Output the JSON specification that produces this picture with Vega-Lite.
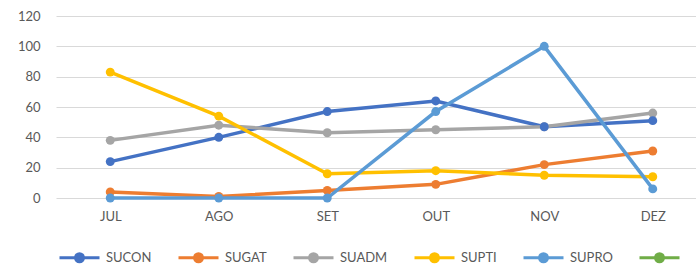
{
  "$schema": "https://vega.github.io/schema/vega-lite/v6.json",
  "width": 651,
  "height": 182,
  "autosize": {"type": "none"},
  "padding": {"left": 56, "top": 16, "right": 0, "bottom": 67},
  "background": "white",
  "config": {
    "view": {"stroke": null},
    "font": "Lato",
    "axis": {"labelFont": "Lato", "labelFontSize": 13, "labelColor": "#595959"},
    "legend": {"labelFont": "Lato", "labelFontSize": 13, "labelColor": "#595959"}
  },
  "data": {
    "values": [
      {"mes": "JUL", "serie": "SUCON", "valor": 24},
      {"mes": "AGO", "serie": "SUCON", "valor": 40},
      {"mes": "SET", "serie": "SUCON", "valor": 57},
      {"mes": "OUT", "serie": "SUCON", "valor": 64},
      {"mes": "NOV", "serie": "SUCON", "valor": 47},
      {"mes": "DEZ", "serie": "SUCON", "valor": 51},
      {"mes": "JUL", "serie": "SUGAT", "valor": 4},
      {"mes": "AGO", "serie": "SUGAT", "valor": 1},
      {"mes": "SET", "serie": "SUGAT", "valor": 5},
      {"mes": "OUT", "serie": "SUGAT", "valor": 9},
      {"mes": "NOV", "serie": "SUGAT", "valor": 22},
      {"mes": "DEZ", "serie": "SUGAT", "valor": 31},
      {"mes": "JUL", "serie": "SUADM", "valor": 38},
      {"mes": "AGO", "serie": "SUADM", "valor": 48},
      {"mes": "SET", "serie": "SUADM", "valor": 43},
      {"mes": "OUT", "serie": "SUADM", "valor": 45},
      {"mes": "NOV", "serie": "SUADM", "valor": 47},
      {"mes": "DEZ", "serie": "SUADM", "valor": 56},
      {"mes": "JUL", "serie": "SUPTI", "valor": 83},
      {"mes": "AGO", "serie": "SUPTI", "valor": 54},
      {"mes": "SET", "serie": "SUPTI", "valor": 16},
      {"mes": "OUT", "serie": "SUPTI", "valor": 18},
      {"mes": "NOV", "serie": "SUPTI", "valor": 15},
      {"mes": "DEZ", "serie": "SUPTI", "valor": 14},
      {"mes": "JUL", "serie": "SUPRO", "valor": 0},
      {"mes": "AGO", "serie": "SUPRO", "valor": 0},
      {"mes": "SET", "serie": "SUPRO", "valor": 0},
      {"mes": "OUT", "serie": "SUPRO", "valor": 57},
      {"mes": "NOV", "serie": "SUPRO", "valor": 100},
      {"mes": "DEZ", "serie": "SUPRO", "valor": 6}
    ]
  },
  "mark": {"type": "line", "strokeWidth": 3.5, "point": {"filled": true, "size": 80}},
  "encoding": {
    "x": {
      "field": "mes", "type": "nominal",
      "sort": ["JUL", "AGO", "SET", "OUT", "NOV", "DEZ"],
      "scale": {"type": "point", "padding": 0.5},
      "axis": {"title": null, "labelAngle": 0, "ticks": false, "domain": false, "labelPadding": 12, "grid": false}
    },
    "y": {
      "field": "valor", "type": "quantitative",
      "scale": {"domain": [0, 120], "nice": false},
      "axis": {"title": null, "values": [0, 20, 40, 60, 80, 100, 120], "ticks": false, "domain": false, "labelPadding": 16, "gridColor": "#d9d9d9", "gridWidth": 1}
    },
    "color": {
      "field": "serie", "type": "nominal",
      "scale": {
        "domain": ["SUCON", "SUGAT", "SUADM", "SUPTI", "SUPRO", "S6"],
        "range": ["#4472C4", "#ED7D31", "#A5A5A5", "#FFC000", "#5B9BD5", "#70AD47"]
      },
      "legend": {
        "title": null,
        "orient": "none",
        "direction": "horizontal",
        "legendX": 2,
        "legendY": 220,
        "symbolType": "M-1,0L1,0M0.2,0A0.2,0.2,0,1,1,-0.2,0A0.2,0.2,0,1,1,0.2,0Z",
        "symbolSize": 1600,
        "symbolStrokeWidth": 3,
        "labelOffset": 5,
        "columnPadding": 20,
        "labelExpr": "datum.label == 'S6' ? '' : datum.label",
        "encode": {"symbols": {"update": {"fill": {"scale": "color", "field": "value"}, "fillOpacity": {"value": 1}, "opacity": {"value": 1}}}}
      }
    },
    "order": {"field": "serie"}
  }
}
